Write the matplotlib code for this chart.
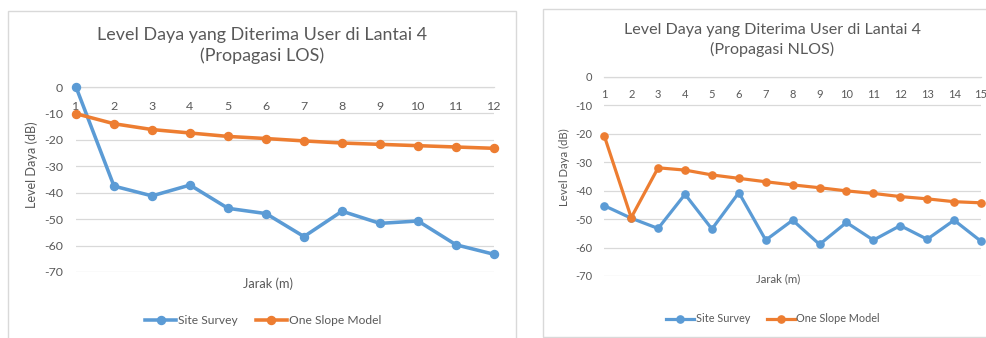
import matplotlib
matplotlib.use("Agg")
import matplotlib.pyplot as plt
from matplotlib.patches import Rectangle

plt.rcParams['font.family'] = ['Lato', 'DejaVu Sans']

# ---- data ----
los_jarak = [1, 2, 3, 4, 5, 6, 7, 8, 9, 10, 11, 12]
los_survey = [0, -37.5, -41.2, -37.1, -45.9, -47.9, -56.6, -47.0, -51.6, -50.7, -59.7, -63.3]
los_model = [-10.1, -13.9, -16.1, -17.4, -18.7, -19.5, -20.4, -21.2, -21.7, -22.2, -22.7, -23.2]

nlos_jarak = list(range(1, 16))
nlos_survey = [-45.3, -49.7, -53.3, -41.3, -53.5, -40.7, -57.4, -50.4, -58.9, -51.2,
               -57.4, -52.3, -57.1, -50.4, -57.8]
nlos_model = [-20.8, -49.5, -32.0, -32.8, -34.5, -35.7, -36.9, -38.0, -39.0, -40.1,
              -41.0, -42.1, -42.9, -43.9, -44.3]

y_ticks = [0, -10, -20, -30, -40, -50, -60, -70]
series_names = ["Site Survey", "One Slope Model"]
title_line1 = "Level Daya yang Diterima User di Lantai 4"
title_los = "(Propagasi LOS)"
title_nlos = "(Propagasi NLOS)"

W, H = 987, 338
BLUE = "#5B9BD5"
ORANGE = "#ED7D31"
TXT = "#595959"
GRID = "#D9D9D9"

fig = plt.figure(figsize=(W / 100, H / 100), dpi=100)


def fx(x):
    return x / W


def fy(y):
    return 1 - y / H


def panel(x0, y0, x1, y1):
    fig.patches.append(Rectangle((fx(x0), fy(y1)), fx(x1 - x0), (y1 - y0) / H,
                                 transform=fig.transFigure, fill=False,
                                 edgecolor="#D9D9D9", linewidth=1.0))


def chart(x, survey, model, ax_box, sub, s, title_xy, ylab_xy, xlab_xy, leg_xy):
    left, top, right, bottom = ax_box
    ax = fig.add_axes([fx(left), fy(bottom), fx(right - left), (bottom - top) / H])
    ax.set_xlim(x[0], x[-1])
    ax.set_ylim(-70, 0)
    ax.set_yticks(y_ticks)
    ax.set_yticklabels([str(v) for v in y_ticks])
    ax.set_xticks(x)
    ax.set_xticklabels([str(v) for v in x])
    ax.grid(axis='y', color=GRID, linewidth=0.9)
    ax.set_axisbelow(True)
    for sp in ['top', 'right', 'left']:
        ax.spines[sp].set_visible(False)
    ax.spines['bottom'].set_position(('data', 0))
    ax.spines['bottom'].set_color(GRID)
    ax.spines['bottom'].set_linewidth(0.9)
    ax.tick_params(axis='x', length=0, pad=9 * s, labelsize=8 * s, labelcolor=TXT)
    ax.tick_params(axis='y', length=0, pad=8.5 * s, labelsize=8 * s, labelcolor=TXT)
    ax.patch.set_alpha(0)

    l1, = ax.plot(x, survey, color=BLUE, linewidth=2.3 * s, marker='o',
                  markersize=5.2 * s, clip_on=False, zorder=3)
    l2, = ax.plot(x, model, color=ORANGE, linewidth=2.3 * s, marker='o',
                  markersize=5.2 * s, clip_on=False, zorder=4)

    fig.text(fx(title_xy[0]), fy(title_xy[1]), title_line1 + "\n" + sub,
             ha='center', va='center', fontsize=11.6 * s, color=TXT,
             linespacing=1.35)
    fig.text(fx(ylab_xy[0]), fy(ylab_xy[1]), "Level Daya (dB)", rotation=90,
             ha='center', va='center', fontsize=8.2 * s, color=TXT)
    fig.text(fx(xlab_xy[0]), fy(xlab_xy[1]), "Jarak (m)",
             ha='center', va='center', fontsize=8.3 * s, color=TXT)
    fig.legend([l1, l2], series_names, loc='center',
               bbox_to_anchor=(fx(leg_xy[0]), fy(leg_xy[1])), ncol=2,
               frameon=False, fontsize=7.8 * s, labelcolor=TXT,
               handlelength=2.6, handletextpad=0.15, columnspacing=1.5,
               borderaxespad=0, borderpad=0)
    return ax


panel(8.5, 10.5, 516, 345)
panel(543, 8.5, 995, 337)

chart(los_jarak, los_survey, los_model, (76, 87, 494, 272), title_los, 1.11,
      (262, 45.5), (32, 165), (268, 284), (263, 321))
chart(nlos_jarak, nlos_survey, nlos_model, (604.3, 76.7, 981, 276), title_nlos, 1.0,
      (772, 40), (564, 167), (778, 279), (773, 319))

fig.savefig("out.png", dpi=100)
